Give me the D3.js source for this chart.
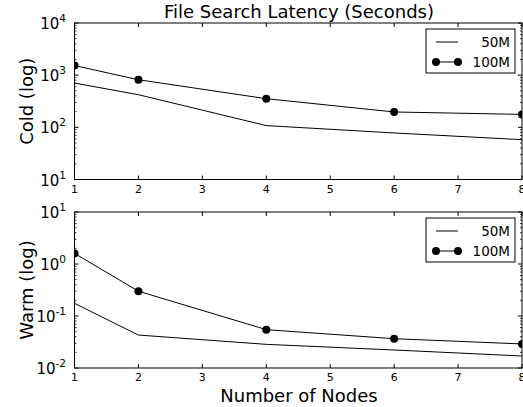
<!DOCTYPE html>
<html>
<head>
<meta charset="utf-8">
<script src="https://cdn.jsdelivr.net/npm/d3@7"></script>
<style>
  body { margin: 0; background: #fff; }
  text { font-family: "DejaVu Sans", sans-serif; fill: #000; }
</style>
</head>
<body>
<script>
// chart data
var nodes = [1, 2, 4, 6, 8];
var xTicks = [1, 2, 3, 4, 5, 6, 7, 8];
var cold50 = [706, 422, 108, 78, 58];
var cold100 = [1530, 817, 354, 197, 177];
var warm50 = [0.175, 0.043, 0.0285, 0.0222, 0.017];
var warm100 = [1.6, 0.30, 0.0546, 0.0366, 0.029];
var coldExp = [1, 2, 3, 4];
var warmExp = [-2, -1, 0, 1];
var seriesNames = ["50M", "100M"];

var fullWidth = 523;
var fullHeight = 407;
var left = 74.5, right = 522;

var svg = d3.select("body").append("svg")
            .attr("width", fullWidth)
            .attr("height", fullHeight);

var xScale = d3.scaleLinear().domain([1, 8]).range([left, right]);

// title
svg.append("text")
   .attr("x", 299).attr("y", 17.5)
   .attr("text-anchor", "middle")
   .style("font-size", "18px")
   .text("File Search Latency (Seconds)");

// x axis title
svg.append("text")
   .attr("x", 299).attr("y", 401.5)
   .attr("text-anchor", "middle")
   .style("font-size", "18px")
   .text("Number of Nodes");

function drawPanel(top, bottom, exps, s50, s100, label, id) {
    var yScale = d3.scaleLog()
                   .domain([Math.pow(10, exps[0]), Math.pow(10, exps[exps.length - 1])])
                   .range([bottom, top]);

    var g = svg.append("g");

    g.append("clipPath").attr("id", id)
     .append("rect")
     .attr("x", left).attr("y", top)
     .attr("width", right - left).attr("height", bottom - top);

    // minor log ticks
    var minor = [];
    for (var e = exps[0]; e < exps[exps.length - 1]; e++) {
        for (var m = 2; m <= 9; m++) minor.push(m * Math.pow(10, e));
    }
    var yMajor = exps.map(function(e) { return Math.pow(10, e); });

    [left, right].forEach(function(x0, side) {
        var dir = side === 0 ? 1 : -1;
        g.selectAll(null).data(minor).enter().append("line")
         .attr("x1", x0).attr("x2", x0 + dir * 2)
         .attr("y1", function(d) { return yScale(d); })
         .attr("y2", function(d) { return yScale(d); })
         .attr("stroke", "#000").attr("stroke-width", 0.8);
        g.selectAll(null).data(yMajor).enter().append("line")
         .attr("x1", x0).attr("x2", x0 + dir * 4)
         .attr("y1", function(d) { return yScale(d); })
         .attr("y2", function(d) { return yScale(d); })
         .attr("stroke", "#000").attr("stroke-width", 1);
    });

    // x ticks, top and bottom, inward
    [bottom, top].forEach(function(y0, side) {
        var dir = side === 0 ? -1 : 1;
        g.selectAll(null).data(xTicks).enter().append("line")
         .attr("x1", function(d) { return xScale(d); })
         .attr("x2", function(d) { return xScale(d); })
         .attr("y1", y0).attr("y2", y0 + dir * 4)
         .attr("stroke", "#000").attr("stroke-width", 1);
    });

    // x tick labels
    g.selectAll(null).data(xTicks).enter().append("text")
     .attr("x", function(d) { return xScale(d); })
     .attr("y", bottom + 13)
     .attr("text-anchor", "middle")
     .style("font-size", "11px")
     .text(function(d) { return d; });

    // y tick labels as powers of ten
    var yl = g.selectAll(null).data(exps).enter().append("text")
              .attr("x", 66)
              .attr("y", function(d) { return yScale(Math.pow(10, d)) + 6; })
              .attr("text-anchor", "end")
              .style("font-size", "15px");
    yl.append("tspan").text("10");
    yl.append("tspan")
      .attr("dy", -7)
      .style("font-size", "10.5px")
      .text(function(d) { return d; });

    // y axis title
    g.append("text")
     .attr("transform", "translate(32.5," + ((top + bottom) / 2) + ") rotate(-90)")
     .attr("text-anchor", "middle")
     .style("font-size", "18px")
     .text(label);

    var line = d3.line()
                 .x(function(d, i) { return xScale(nodes[i]); })
                 .y(function(d) { return yScale(d); });

    var plot = g.append("g").attr("clip-path", "url(#" + id + ")");

    plot.append("path").datum(s50)
        .attr("d", line)
        .attr("fill", "none").attr("stroke", "#000").attr("stroke-width", 1);

    plot.append("path").datum(s100)
        .attr("d", line)
        .attr("fill", "none").attr("stroke", "#000").attr("stroke-width", 1);

    plot.selectAll("circle").data(s100).enter().append("circle")
        .attr("cx", function(d, i) { return xScale(nodes[i]); })
        .attr("cy", function(d) { return yScale(d); })
        .attr("r", 4)
        .attr("fill", "#000");

    // frame
    g.append("rect")
     .attr("x", left).attr("y", top)
     .attr("width", right - left).attr("height", bottom - top)
     .attr("fill", "none").attr("stroke", "#000").attr("stroke-width", 1);

    // legend
    var lg = g.append("g").attr("transform", "translate(426," + (top + 6) + ")");
    lg.append("rect")
      .attr("width", 89).attr("height", 44)
      .attr("fill", "#fff").attr("stroke", "#000").attr("stroke-width", 1);
    seriesNames.forEach(function(name, i) {
        var yy = 13 + i * 20;
        lg.append("line")
          .attr("x1", 10).attr("x2", 32)
          .attr("y1", yy).attr("y2", yy)
          .attr("stroke", "#000").attr("stroke-width", 1);
        if (i === 1) {
            lg.selectAll(null).data([10, 32]).enter().append("circle")
              .attr("cx", function(d) { return d; })
              .attr("cy", yy).attr("r", 4).attr("fill", "#000");
        }
        lg.append("text")
          .attr("x", 84).attr("y", yy + 5)
          .attr("text-anchor", "end")
          .style("font-size", "13.5px")
          .text(name);
    });
}

drawPanel(23, 179.5, coldExp, cold50, cold100, "Cold (log)", "clipCold");
drawPanel(212, 368, warmExp, warm50, warm100, "Warm (log)", "clipWarm");
</script>
</body>
</html>
